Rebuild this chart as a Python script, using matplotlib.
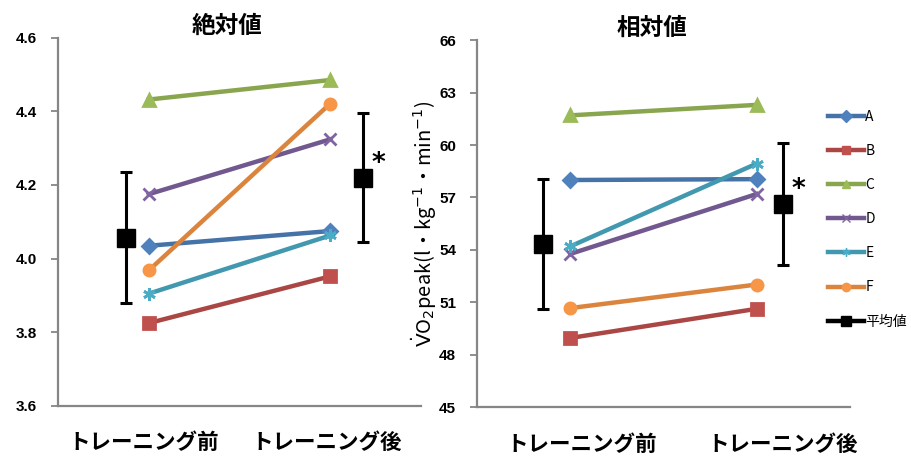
import numpy as np
import matplotlib
matplotlib.use('Agg')
import matplotlib.pyplot as plt
from matplotlib.lines import Line2D

plt.rcParams['font.family'] = ['Noto Sans CJK JP', 'DejaVu Sans']

subjects = ['A', 'B', 'C', 'D', 'E', 'F']
phases = ['トレーニング前', 'トレーニング後']

# absolute VO2peak (l/min)
abs_pre = [4.035, 3.825, 4.432, 4.175, 3.905, 3.968]
abs_post = [4.075, 3.952, 4.485, 4.324, 4.063, 4.421]
abs_mean = [4.057, 4.220]
abs_sd = [0.178, 0.176]

# relative VO2peak (ml/kg/min)
rel_pre = [58.0, 48.96, 61.7, 53.77, 54.2, 50.67]
rel_post = [58.05, 50.63, 62.3, 57.2, 58.94, 52.02]
rel_mean = [54.36, 56.64]
rel_sd = [3.72, 3.50]

line_colors = ['#4572A7', '#AA4643', '#89A54E', '#71588F', '#4198AF', '#DB843D']
face_colors = ['#4F81BD', '#C0504D', '#9BBB59', '#8064A2', '#4BACC6', '#F79646']
markers = ['D', 's', '^', 'x', (6, 2, 0), 'o']
msizes = [7, 8, 8, 8, 9, 8]
axis_gray = '#868686'
tick_font = dict(family=['Liberation Sans Narrow', 'Liberation Sans', 'DejaVu Sans'],
                 weight='bold', size=11)


def draw_panel(ax, pre, post, mean, sd, mean_x, ylim, yticks, fmt, title, title_x, label_x):
    for i, name in enumerate(subjects):
        ax.plot([0, 1], [pre[i], post[i]], color=line_colors[i], lw=3.2,
                marker=markers[i], ms=msizes[i], mfc=face_colors[i],
                mec=face_colors[i], mew=2, label=name, zorder=3)
    ax.errorbar(mean_x, mean, yerr=sd, fmt='s', color='black', ms=13,
                elinewidth=2.2, capsize=4, capthick=2.2, zorder=4)
    ax.annotate('*', (mean_x[1], mean[1]), xytext=(11, 10), textcoords='offset points',
                fontsize=19, fontweight='bold', family='DejaVu Sans', ha='center', va='center')
    ax.set_xlim(-0.5, 1.5)
    ax.set_ylim(*ylim)
    ax.set_yticks(yticks)
    ax.set_yticklabels([fmt.format(v) for v in yticks], fontdict=tick_font)
    ax.set_xticks(label_x)
    ax.set_xticklabels(phases, fontsize=15.5, fontweight='bold')
    ax.tick_params(axis='x', length=0, pad=19)
    ax.tick_params(axis='y', length=5, width=1.3, color=axis_gray, pad=10)
    for side in ['top', 'right']:
        ax.spines[side].set_visible(False)
    for side in ['left', 'bottom']:
        ax.spines[side].set_color(axis_gray)
        ax.spines[side].set_linewidth(1.6)
    ax.text(title_x, 1.0, title, transform=ax.transAxes, ha='center', va='bottom',
            fontsize=17, fontweight='bold')


fig = plt.figure(figsize=(9.12, 4.57), dpi=100)
ax1 = fig.add_axes([0.0636, 0.1116, 0.398, 0.806])
ax2 = fig.add_axes([0.523, 0.109, 0.409, 0.803])

draw_panel(ax1, abs_pre, abs_post, abs_mean, abs_sd, [-0.128, 1.18],
           (3.6, 4.6), np.arange(3.6, 4.61, 0.2), '{:.1f}', '絶対値', 0.465, [-0.03, 0.98])
draw_panel(ax2, rel_pre, rel_post, rel_mean, rel_sd, [-0.145, 1.14],
           (45, 66), np.arange(45, 67, 3), '{:.0f}', '相対値', 0.47, [0.06, 1.14])

ax2.set_ylabel(r'$\dot{\mathrm{V}}$O$_2$peak(l・kg$^{-1}$・min$^{-1}$)', fontsize=14.5, labelpad=0)

handles = []
for i, name in enumerate(subjects):
    handles.append(Line2D([], [], color=line_colors[i], lw=3.2, marker=markers[i], ms=6,
                          mfc=face_colors[i], mec=face_colors[i], label=name))
handles.append(Line2D([], [], color='black', lw=3.2, marker='s', ms=7, label='平均値'))
fig.legend(handles=handles, loc='upper left', bbox_to_anchor=(0.9, 0.775), frameon=False,
           fontsize=10, handlelength=2.6, handletextpad=0.1, labelspacing=1.45, borderpad=0)

fig.savefig('out.png', dpi=100)
